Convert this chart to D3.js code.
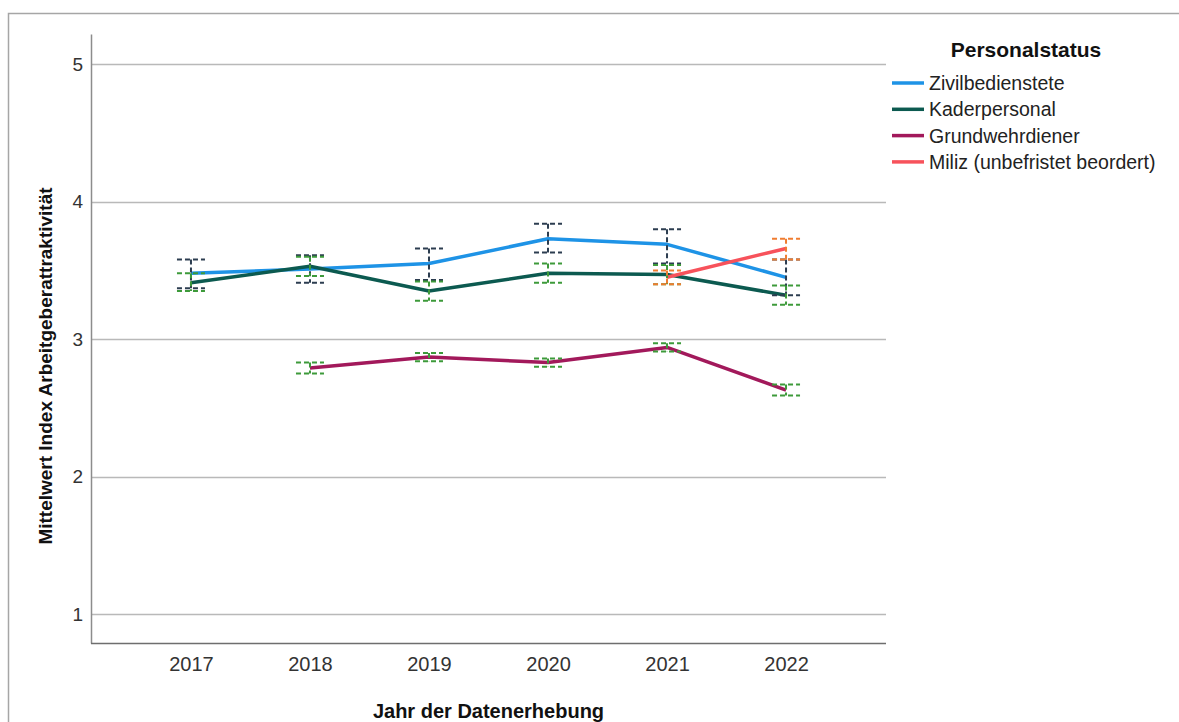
<!DOCTYPE html>
<html>
<head>
<meta charset="utf-8">
<script src="https://cdn.jsdelivr.net/npm/d3@7"></script>
<style>
  html, body { margin: 0; padding: 0; background: #fff; }
  svg { display: block; font-family: "Liberation Sans", Arial, sans-serif; }
</style>
</head>
<body>
<svg id="chart" width="1179" height="722"></svg>
<script>
// Mean index of employer attractiveness by survey year and personnel status,
// with 95% confidence intervals.
const years = [2017, 2018, 2019, 2020, 2021, 2022];
const yTicks = [1, 2, 3, 4, 5];

const groups = ["Zivilbedienstete", "Kaderpersonal", "Grundwehrdiener", "Miliz (unbefristet beordert)"];

const zivilMean = [3.48, 3.51, 3.55, 3.73, 3.69, 3.45];
const zivilLow  = [3.37, 3.41, 3.43, 3.63, 3.55, 3.32];
const zivilHigh = [3.58, 3.61, 3.66, 3.84, 3.80, 3.58];

const kaderMean = [3.41, 3.53, 3.35, 3.48, 3.47, 3.32];
const kaderLow  = [3.35, 3.46, 3.28, 3.41, 3.40, 3.25];
const kaderHigh = [3.48, 3.60, 3.42, 3.55, 3.54, 3.39];

const gwdMean = [null, 2.79, 2.87, 2.83, 2.94, 2.63];
const gwdLow  = [null, 2.75, 2.84, 2.80, 2.91, 2.59];
const gwdHigh = [null, 2.83, 2.90, 2.86, 2.97, 2.67];

const milizMean = [null, null, null, null, 3.45, 3.66];
const milizLow  = [null, null, null, null, 3.40, 3.58];
const milizHigh = [null, null, null, null, 3.50, 3.73];

const lineColors = ["#1e93e6", "#0c5a50", "#a2195b", "#f7525b"];
const ciColors   = ["#2c3d50", "#3d9a3a", "#3d9a3a", "#f07c30"];

const series = [
  { name: groups[0], mean: zivilMean, low: zivilLow, high: zivilHigh },
  { name: groups[1], mean: kaderMean, low: kaderLow, high: kaderHigh },
  { name: groups[2], mean: gwdMean,   low: gwdLow,   high: gwdHigh },
  { name: groups[3], mean: milizMean, low: milizLow, high: milizHigh }
];

const svg = d3.select("#chart");
const plot = { left: 91, right: 886, top: 34, bottom: 643 };

// outer frame
svg.append("path")
  .attr("d", "M8.5,722 V13.5 H1179")
  .attr("fill", "none").attr("stroke", "#a6a6a6").attr("stroke-width", 1.5);

const x = d3.scalePoint().domain(years).range([plot.left, plot.right]).padding(0.84);
const y = d3.scaleLinear().domain([0.79, 5.22]).range([plot.bottom, plot.top]);

// grid lines
svg.append("g").selectAll("line").data(yTicks).join("line")
  .attr("x1", plot.left).attr("x2", plot.right)
  .attr("y1", d => Math.round(y(d)) + 0.5).attr("y2", d => Math.round(y(d)) + 0.5)
  .attr("stroke", "#b9b9b9").attr("stroke-width", 1.5);

// y axis
const yAxis = svg.append("g").attr("transform", `translate(${plot.left},0)`)
  .call(d3.axisLeft(y).tickValues(yTicks).tickSize(0).tickPadding(8).tickFormat(d3.format("d")));
yAxis.select(".domain").attr("stroke", "#8c8c8c").attr("stroke-width", 1.5);
yAxis.selectAll("text").attr("font-size", 19).attr("fill", "#333")
  .attr("font-family", "Liberation Sans, Arial, sans-serif");

// x axis
const xAxis = svg.append("g").attr("transform", `translate(0,${plot.bottom})`)
  .call(d3.axisBottom(x).tickSize(0).tickPadding(14).tickFormat(d3.format("d")));
xAxis.select(".domain").attr("d", `M${plot.left},0.5H${plot.right}`)
  .attr("stroke", "#6e6e6e").attr("stroke-width", 1.5);
xAxis.selectAll("text").attr("font-size", 20).attr("fill", "#333")
  .attr("font-family", "Liberation Sans, Arial, sans-serif");

// axis titles
svg.append("text")
  .attr("x", (plot.left + plot.right) / 2).attr("y", 718)
  .attr("text-anchor", "middle").attr("font-size", 20).attr("font-weight", "bold")
  .attr("fill", "#111").text("Jahr der Datenerhebung");

svg.append("text")
  .attr("transform", "translate(52,366) rotate(-90)")
  .attr("text-anchor", "middle").attr("font-size", 19).attr("font-weight", "bold")
  .attr("fill", "#111").text("Mittelwert Index Arbeitgeberattraktivität");

// mean lines
const line = d3.line()
  .defined(d => d.v != null)
  .x(d => x(d.year)).y(d => y(d.v));

series.forEach((s, i) => {
  const pts = years.map((yr, j) => ({ year: yr, v: s.mean[j] }));
  svg.append("path").datum(pts)
    .attr("d", line)
    .attr("fill", "none").attr("stroke", lineColors[i])
    .attr("stroke-width", 3.5).attr("stroke-linejoin", "round");
});

// confidence interval bars (dashed)
const capHalf = 14;
series.forEach((s, i) => {
  const g = svg.append("g").attr("stroke", ciColors[i]).attr("stroke-width", 2)
    .attr("stroke-dasharray", "5,3").attr("fill", "none");
  years.forEach((yr, j) => {
    if (s.low[j] == null) return;
    const cx = x(yr);
    g.append("line").attr("x1", cx).attr("x2", cx)
      .attr("y1", y(s.high[j])).attr("y2", y(s.low[j]));
    [s.high[j], s.low[j]].forEach(v => {
      g.append("line").attr("x1", cx - capHalf).attr("x2", cx + capHalf)
        .attr("y1", y(v)).attr("y2", y(v));
    });
  });
});

// legend
const legend = svg.append("g");
legend.append("text")
  .attr("x", 1026).attr("y", 57).attr("text-anchor", "middle")
  .attr("font-size", 21).attr("font-weight", "bold").attr("fill", "#111")
  .text("Personalstatus");

const items = legend.selectAll("g.item").data(groups).join("g")
  .attr("class", "item")
  .attr("transform", (d, i) => `translate(892,${83 + i * 26.3})`);
items.append("line").attr("x1", 0).attr("x2", 32).attr("y1", 0).attr("y2", 0)
  .attr("stroke", (d, i) => lineColors[i]).attr("stroke-width", 3.5);
items.append("text").attr("x", 37).attr("y", 7)
  .attr("font-size", 19.5).attr("fill", "#222").text(d => d);
</script>
</body>
</html>
